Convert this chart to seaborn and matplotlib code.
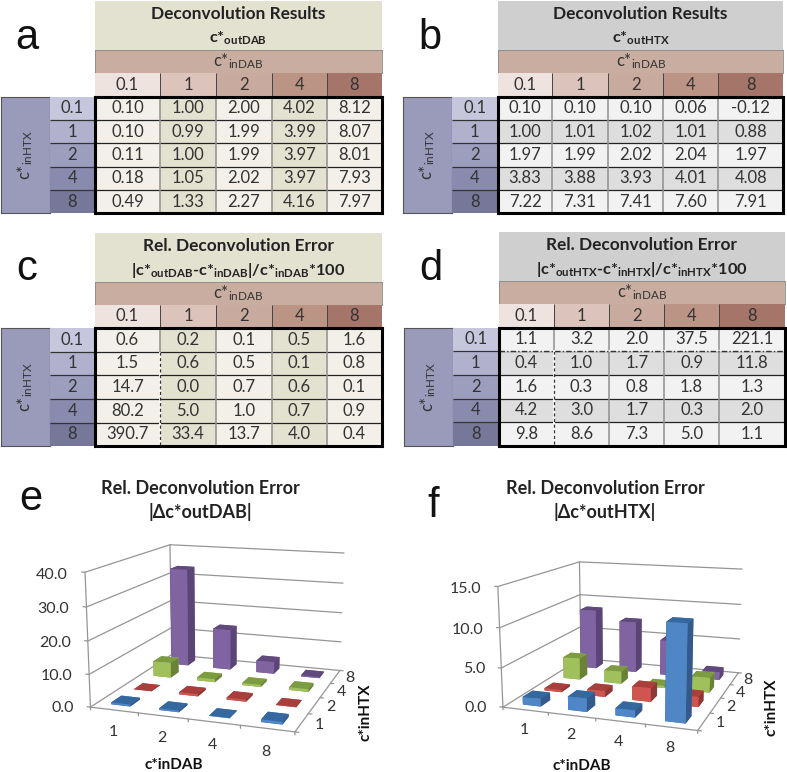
import numpy as np
import matplotlib
matplotlib.use("Agg")
import matplotlib.pyplot as plt
from matplotlib.colors import ListedColormap
from mpl_toolkits.mplot3d import proj3d
import seaborn as sns

# --- DATA ---
LEVELS = ["0.1", "1", "2", "4", "8"]
BAR_LEVELS = ["1", "2", "4", "8"]

OUT_DAB = [
    [0.10, 1.00, 2.00, 4.02, 8.12],
    [0.10, 0.99, 1.99, 3.99, 8.07],
    [0.11, 1.00, 1.99, 3.97, 8.01],
    [0.18, 1.05, 2.02, 3.97, 7.93],
    [0.49, 1.33, 2.27, 4.16, 7.97],
]
OUT_HTX = [
    [0.10, 0.10, 0.10, 0.06, -0.12],
    [1.00, 1.01, 1.02, 1.01, 0.88],
    [1.97, 1.99, 2.02, 2.04, 1.97],
    [3.83, 3.88, 3.93, 4.01, 4.08],
    [7.22, 7.31, 7.41, 7.60, 7.91],
]
ERR_DAB = [
    [0.6, 0.2, 0.1, 0.5, 1.6],
    [1.5, 0.6, 0.5, 0.1, 0.8],
    [14.7, 0.0, 0.7, 0.6, 0.1],
    [80.2, 5.0, 1.0, 0.7, 0.9],
    [390.7, 33.4, 13.7, 4.0, 0.4],
]
ERR_HTX = [
    [1.1, 3.2, 2.0, 37.5, 221.1],
    [0.4, 1.0, 1.7, 0.9, 11.8],
    [1.6, 0.3, 0.8, 1.8, 1.3],
    [4.2, 3.0, 1.7, 0.3, 2.0],
    [9.8, 8.6, 7.3, 5.0, 1.1],
]
E_TICKS = [0.0, 10.0, 20.0, 30.0, 40.0]
F_TICKS = [0.0, 5.0, 10.0, 15.0]

# --- STYLE ---
W, H = 787, 772
FONT = ["Lato", "DejaVu Sans"]
TEXT = "#333333"
TAN = "#e3e1d0"
GREY = "#cfcfcf"
LIGHT_TAN = "#f2f0e9"
LIGHT_GREY = "#f2f2f2"
MID_GREY = "#dedede"
DAB_BAND = "#c9ada0"
HTX_BAND = "#9a9aba"
COL_COLORS = ["#efe3e0", "#dcc3bc", "#c9aa9f", "#bc9486", "#a5756a"]
ROW_COLORS = ["#c6c7dc", "#b1b1cd", "#9d9dbe", "#8a8aae", "#777799"]
# faces in bar3d order: bottom, top, front, back, left, right
SERIES_FACES = [
    ["#3f6fa5", "#34689f", "#4f86c6", "#4f86c6", "#34598a", "#34598a"],
    ["#a53e3b", "#a83f3c", "#d0544f", "#d0544f", "#8c3836", "#8c3836"],
    ["#7a9a3e", "#7d9c42", "#9fc05a", "#9fc05a", "#6a8238", "#6a8238"],
    ["#604a7b", "#604a7b", "#8064a2", "#8064a2", "#5b4576", "#5b4576"],
]

sns.set_theme(style="white")
plt.rcParams["font.family"] = FONT
plt.rcParams["mathtext.fontset"] = "custom"
plt.rcParams["mathtext.rm"] = "Lato"
plt.rcParams["mathtext.it"] = "Lato:italic"
plt.rcParams["mathtext.bf"] = "Lato:bold"

fig = plt.figure(figsize=(W / 100, H / 100), dpi=100, facecolor="white")


def px_axes(x0, y0, x1, y1):
    return fig.add_axes([x0 / W, 1 - y1 / H, (x1 - x0) / W, (y1 - y0) / H])


def px_text(x, y, s, **kw):
    fig.text(x / W, 1 - y / H, s, ha=kw.pop("ha", "center"), va=kw.pop("va", "center"),
             color=kw.pop("color", TEXT), **kw)


def heat(rect, shade, colors, annot, fmt="", edges=None, size=12, rotation=0):
    ax = px_axes(*rect)
    sns.heatmap(
        shade,
        cmap=ListedColormap(colors),
        vmin=0,
        vmax=max(len(colors) - 1, 1),
        annot=annot,
        fmt=fmt,
        cbar=False,
        xticklabels=False,
        yticklabels=False,
        annot_kws={"size": size, "color": TEXT, "rotation": rotation},
        ax=ax,
    )
    if edges is not None:
        # cells of unequal width, the last or the first column is wider
        idx = np.arange(len(edges))
        ax.set_xscale(
            "function",
            functions=(lambda v: np.interp(v, idx, edges), lambda v: np.interp(v, edges, idx)),
        )
    ax.set_xticks([])
    ax.set_yticks([])
    return ax


def outline(ax, color="#555555", lw=0.8):
    for spine in ax.spines.values():
        spine.set_visible(True)
        spine.set_color(color)
        spine.set_linewidth(lw)


def draw_table(x, y, values, fmt, title, subtitle, band, shade, shade_colors, dash_v=False, dash_h=False):
    # x: left band, row labels, then column edges; y: title, band, labels, row edges
    ax_title = px_axes(x[2], y[0], x[-1], y[1])
    ax_title.set_facecolor(band)
    ax_title.set_xticks([])
    ax_title.set_yticks([])
    for spine in ax_title.spines.values():
        spine.set_visible(False)
    ax_title.text(0.5, 0.73, title, transform=ax_title.transAxes, ha="center", va="center",
                  fontsize=12.4, fontweight="bold", color="#222222")
    ax_title.text(0.5, 0.23, subtitle, transform=ax_title.transAxes, ha="center", va="center",
                  fontsize=11.8, fontweight="bold", color="#222222")

    edges = x[2:]
    ax_band = heat((x[2], y[1], x[-1], y[2]), [[0]], [DAB_BAND], [[r"$\mathregular{c{*}_{inDAB}}$"]], size=12)
    outline(ax_band, "#888888", 0.6)

    ax_cols = heat((x[2], y[2], x[-1], y[3]), [list(range(5))], COL_COLORS, [LEVELS], edges=edges)
    ax_cols.vlines(range(1, 5), 0, 1, color="#444444", lw=0.7)

    ax_side = heat((x[0], y[3], x[1], y[-1]), [[0]], [HTX_BAND], [[r"$\mathregular{c{*}_{inHTX}}$"]],
                   size=12, rotation=90)
    outline(ax_side, "#555555", 0.8)

    ax_rows = heat((x[1], y[3], x[2], y[-1]), [[i] for i in range(5)], ROW_COLORS,
                   [[lv] for lv in LEVELS])
    ax_rows.hlines(range(1, 5), 0, 1, color="#333333", lw=0.9)

    ax = heat((x[2], y[3], x[-1], y[-1]), shade, shade_colors, np.array(values), fmt=fmt, edges=edges)
    ax.hlines(range(1, 5), 0, 5, color="#222222", lw=0.9)
    ax.vlines(range(1, 5), 0, 5, color="#8f8f8f", lw=1.1)
    if dash_v:
        ax.vlines(1, 1, 5, color="white", lw=1.4)
        ax.vlines(1, 1, 5, color="#333333", lw=0.9, linestyles=(0, (2.5, 2)))
    if dash_h:
        ax.hlines(1, 0, 5, color="white", lw=1.2)
        ax.hlines(1, 0, 5, color="#333333", lw=1.0, linestyles=(0, (4, 1.5, 1, 1.5)))
    outline(ax, "black", 2.2)


def label3d(ax, x, y, z, s, ha="center"):
    # text placed at its projected spot, the 3D axes only knows its own limits
    tx, ty, _ = proj3d.proj_transform(np.array([x]), np.array([y]), np.array([z]), ax.get_proj())
    ax.apply_aspect()
    pos = ax.transData.transform((tx[0], ty[0]))
    fx, fy = fig.transFigure.inverted().transform(pos)
    fig.text(fx, fy, s, ha=ha, va="center", fontsize=11.5, color=TEXT)


def draw_bars(rect, view, zmax, z_ticks, errors):
    ax = fig.add_axes(rect, projection="3d")
    ax.patch.set_alpha(0)
    ax.set_axis_off()
    ax.computed_zorder = False
    ax.set_autoscale_on(False)
    grid = {"color": "#959595", "lw": 0.9, "zorder": 1}

    # walls and floor
    for z in z_ticks:
        ax.plot([0, 0, 4], [0, 4, 4], [z, z, z], **grid)
        ax.plot([-0.07, 0], [0, 0], [z, z], **grid)
    ax.plot([0, 0], [0, 0], [0, zmax], **grid)
    ax.plot([0, 0], [4, 4], [0, zmax], **grid)
    ax.plot([0, 4, 4], [0, 0, 4], [0, 0, 0], **grid)
    for i in range(5):
        ax.plot([i, i], [0, 0], [0, -zmax * 0.022], **grid)
        ax.plot([4, 4.07], [i, i], [0, 0], **grid)

    # back row first, left to right, so nearer bars cover the ones behind
    order = 2
    for row in range(3, -1, -1):
        for col in range(4):
            bar = ax.bar3d(col + 0.3, row + 0.28, 0, 0.40, 0.44, errors[row][col],
                           color=SERIES_FACES[row], shade=False, linewidth=0)
            bar.set_zorder(order)
            order += 1

    ax.set_xlim(0, 4, view_margin=0)
    ax.set_ylim(0, 4, view_margin=0)
    ax.set_zlim(0, zmax, view_margin=0)
    ax.set_box_aspect((1, view["ay"], view["az"]))
    ax.view_init(elev=view["elev"], azim=view["azim"])
    ax.set_proj_type("persp", focal_length=view["focal"])

    for z in z_ticks:
        label3d(ax, -0.36, 0, z - zmax * 0.025, f"{z:.1f}", ha="right")
    for i, label in enumerate(BAR_LEVELS):
        label3d(ax, i + 0.47, 0, -zmax * 0.17, label)
        label3d(ax, 4.32, i + 0.5, 0, label)
    return ax


# --- TABLES ---
tan_cols = [[i % 2 for i in range(5)] for _ in range(5)]
grey_rows = [[r % 2] * 5 for r in range(5)]
TAN_CELLS = [LIGHT_TAN, TAN]
GREY_CELLS = [LIGHT_GREY, MID_GREY]

draw_table(
    [1, 50, 95, 160, 216, 271.7, 326.7, 381.7],
    [0.5, 50, 73, 96.7, 120, 143.3, 166.7, 190, 213.3],
    OUT_DAB, ".2f", "Deconvolution Results", r"$\mathbf{c{*}_{outDAB}}$", TAN, tan_cols, TAN_CELLS,
)
draw_table(
    [403.3, 451.7, 498, 552.3, 607.7, 663.3, 718.3, 783.3],
    [0.5, 50, 73, 96.7, 120, 143.3, 166.7, 190, 213.3],
    OUT_HTX, ".2f", "Deconvolution Results", r"$\mathbf{c{*}_{outHTX}}$", GREY, grey_rows, GREY_CELLS,
)
draw_table(
    [1, 50, 95, 160, 216, 271.7, 326.7, 381.7],
    [233, 281.7, 305, 328, 352.3, 376.3, 399.7, 423, 446.3],
    ERR_DAB, ".1f", "Rel. Deconvolution Error",
    r"$\mathbf{|c{*}_{outDAB}{‐}c{*}_{inDAB}|/c{*}_{inDAB}{*}100}$",
    TAN, tan_cols, TAN_CELLS, dash_v=True,
)
draw_table(
    [404.3, 453, 498.7, 553.7, 609.3, 664.3, 719, 785],
    [232.3, 281, 304, 327.7, 351.7, 375.7, 399, 421.7, 445.7],
    ERR_HTX, ".1f", "Rel. Deconvolution Error",
    r"$\mathbf{|c{*}_{outHTX}{‐}c{*}_{inHTX}|/c{*}_{inHTX}{*}100}$",
    GREY, grey_rows, GREY_CELLS, dash_v=True, dash_h=True,
)

# --- 3D BARS ---
draw_bars(
    [70.2 / W, -7.8 / H, 299.8 / W, 299.8 / H],
    {"elev": 13.35, "azim": -70.84, "focal": 0.5, "ay": 0.996, "az": 0.649},
    40, E_TICKS, [r[1:] for r in ERR_DAB[1:]],
)
draw_bars(
    [486.0 / W, -5.8 / H, 280.3 / W, 280.3 / H],
    {"elev": 12.97, "azim": -70.95, "focal": 0.467, "ay": 1.002, "az": 0.611},
    15, F_TICKS, [r[1:] for r in ERR_HTX[1:]],
)

# --- LABELS ---
for letter, x, y in [("a", 15, 49), ("b", 418, 49), ("c", 16, 280), ("d", 419, 280), ("e", 19, 510), ("f", 427, 517)]:
    px_text(x, y, letter, ha="left", va="baseline", fontsize=30, color="#111111", family="Liberation Sans")

for x, label in [(200, "|Δc*outDAB|"), (605, "|Δc*outHTX|")]:
    px_text(x, 488, "Rel. Deconvolution Error", fontsize=13, fontweight="bold", color="#222222")
    px_text(x, 512, label, fontsize=13, fontweight="bold", color="#222222")
px_text(174, 765, "c*inDAB", fontsize=11, fontweight="bold", color="#111111")
px_text(582, 766, "c*inDAB", fontsize=11, fontweight="bold", color="#111111")
px_text(366, 712, "c*inHTX", fontsize=11, fontweight="bold", rotation=90, color="#111111")
px_text(771, 707, "c*inHTX", fontsize=11, fontweight="bold", rotation=90, color="#111111")

fig.savefig("out.png", dpi=100, facecolor="white")
